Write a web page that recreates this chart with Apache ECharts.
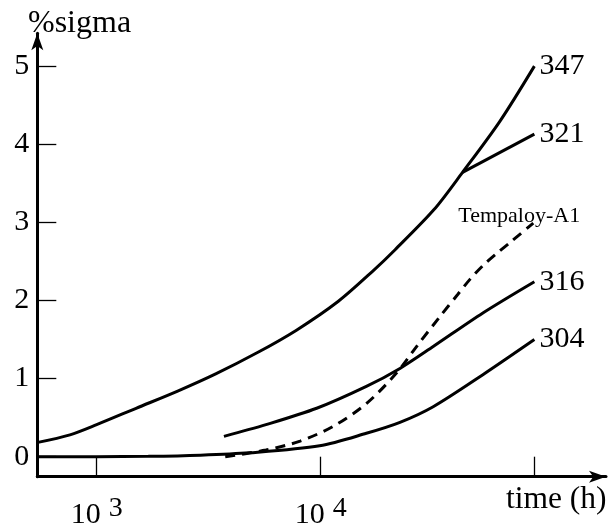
<!DOCTYPE html>
<html>
<head>
<meta charset="utf-8">
<script src="https://cdn.jsdelivr.net/npm/echarts@6/dist/echarts.min.js"></script>
<style>
html,body{margin:0;padding:0;background:#fff;}
#c{width:608px;height:529px;}
</style>
</head>
<body>
<div id="c"></div>
<script>
// ---- data (time in hours, sigma-phase in %) ----
const tickHours = [1000, 10000, 90000];
const tickExponents = ['3', '4', ''];
const yTicks = [0, 1, 2, 3, 4, 5];

const hours347 = [540, 760, 1000, 1500, 2300, 3400, 5200, 7800, 12000, 17000, 21500, 32000, 43000, 63000, 90000];
const sigma347 = [0.18, 0.28, 0.41, 0.62, 0.84, 1.06, 1.33, 1.62, 1.99, 2.37, 2.65, 3.16, 3.64, 4.29, 5.0];

const hours321 = [43000, 90000];
const sigma321 = [3.64, 4.13];

const hoursA1 = [3750, 5700, 8100, 11400, 16000, 21800, 26800, 34000, 41000, 46400, 53200, 61000, 71300, 89000];
const sigmaA1 = [0, 0.085, 0.2, 0.39, 0.68, 1.07, 1.41, 1.79, 2.08, 2.27, 2.45, 2.60, 2.76, 2.99];

const hours316 = [3700, 5700, 9600, 16000, 22600, 31800, 53000, 90000];
const sigma316 = [0.26, 0.41, 0.62, 0.90, 1.13, 1.41, 1.84, 2.24];

const hours304 = [540, 1000, 1700, 2900, 4800, 9900, 16000, 22600, 31800, 53000, 90000];
const sigma304 = [0, 0, 0.005, 0.02, 0.05, 0.14, 0.30, 0.44, 0.64, 1.05, 1.50];

const seriesNames = ['347', '321', 'Tempaloy-A1', '316', '304'];
const xName = 'time (h)';
const yName = '%sigma';

// ---- build ----
const FONT = "'Liberation Serif','Times New Roman',serif";
const lg = h => Math.log10(h);
const pts = (hs, vs) => hs.map((h, i) => [lg(h), vs[i]]);

const tickPos = tickHours.map(lg);
const expByPos = {};
tickPos.forEach((p, i) => { expByPos[p.toFixed(4)] = tickExponents[i]; });

function lineSeries(name, hs, vs, dashed, labelOpt) {
  return {
    type: 'line',
    name: name,
    data: pts(hs, vs),
    smooth: 0.3,
    showSymbol: false,
    symbol: 'none',
    lineStyle: { color: '#000', width: 3, type: dashed ? [10, 7] : 'solid' },
    endLabel: Object.assign({
      show: true,
      formatter: name,
      color: '#000',
      fontFamily: FONT,
      fontSize: 30,
      distance: 5
    }, labelOpt || {}),
    z: 3
  };
}

const chart = echarts.init(document.getElementById('c'), null, { renderer: 'canvas' });
chart.setOption({
  animation: false,
  backgroundColor: '#fff',
  grid: { left: 37.3, right: 2, top: 33.3, bottom: 52.3, containLabel: false, outerBoundsMode: 'none' },
  xAxis: {
    type: 'value',
    min: 2.735,
    max: 5.274,
    axisLine: { show: true, onZero: false, lineStyle: { color: '#000', width: 3 }, symbol: ['none', 'arrow'], symbolSize: [9, 17] },
    axisTick: { show: true, inside: true, length: 20, lineStyle: { color: '#000', width: 1.3 }, customValues: tickPos },
    axisLabel: {
      show: true,
      customValues: tickPos.slice(0, 2),
      margin: 23,
      formatter: v => '{b|10}{s|' + (expByPos[v.toFixed(4)] || '') + '}',
      rich: {
        b: { fontFamily: FONT, fontSize: 30, lineHeight: 30, color: '#000' },
        s: { fontFamily: FONT, fontSize: 28, lineHeight: 30, color: '#000', padding: [0, 0, 12, 8] }
      }
    },
    splitLine: { show: false }
  },
  yAxis: {
    type: 'value',
    min: -0.256,
    max: 5.42,
    axisLine: { show: true, onZero: false, lineStyle: { color: '#000', width: 3 }, symbol: ['none', 'arrow'], symbolSize: [9, 17] },
    axisTick: { show: true, inside: true, length: 19, lineStyle: { color: '#000', width: 1.3 }, customValues: yTicks },
    axisLabel: { show: true, customValues: yTicks, margin: 8, color: '#000', fontFamily: FONT, fontSize: 30 },
    splitLine: { show: false }
  },
  graphic: [
    { type: 'text', left: 28, top: 8, style: { text: yName, font: "32px 'Liberation Serif','Times New Roman',serif", fill: '#000' } },
    { type: 'text', left: 506, top: 484, style: { text: xName, font: "31.5px 'Liberation Serif','Times New Roman',serif", fill: '#000' } }
  ],
  series: [
    lineSeries(seriesNames[0], hours347, sigma347, false),
    lineSeries(seriesNames[1], hours321, sigma321, false),
    lineSeries(seriesNames[2], hoursA1, sigmaA1, true, { fontSize: 22, offset: [-80, -7] }),
    lineSeries(seriesNames[3], hours316, sigma316, false),
    lineSeries(seriesNames[4], hours304, sigma304, false)
  ]
});
</script>
</body>
</html>
